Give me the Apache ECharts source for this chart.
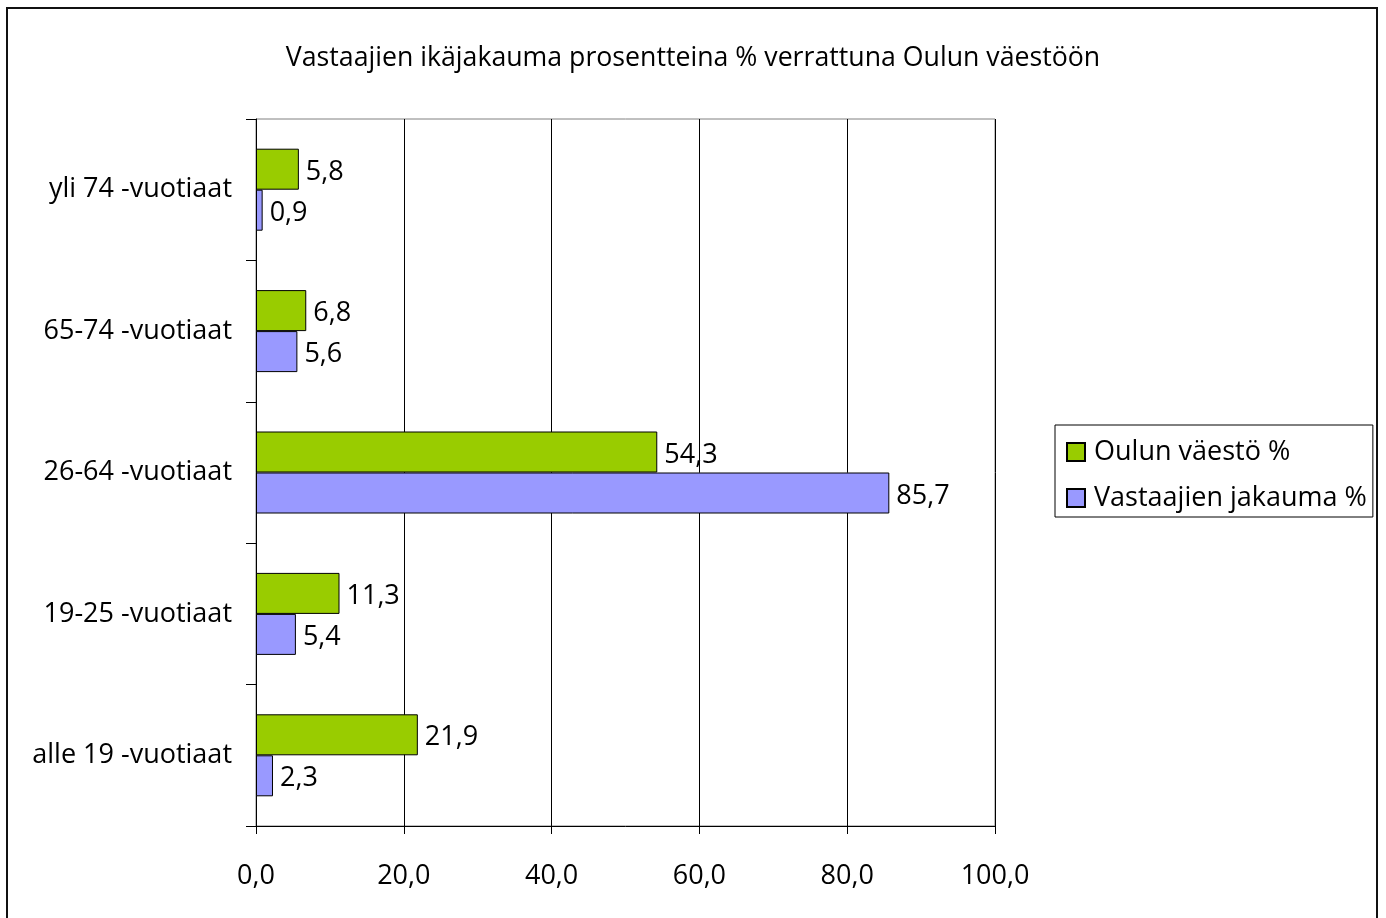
<!DOCTYPE html>
<html>
<head>
<meta charset="utf-8">
<script src="https://cdn.jsdelivr.net/npm/echarts@6/dist/echarts.min.js"></script>
<style>
html,body{margin:0;padding:0;background:#fff;}
#frame{position:absolute;left:6px;top:7px;width:1372px;height:920px;border:2px solid #111;box-sizing:border-box;}
#chart{position:absolute;left:0;top:0;width:1386px;height:918px;}
</style>
</head>
<body>
<div id="frame"></div>
<div id="chart"></div>
<script>
const categories = ['alle 19 -vuotiaat', '19-25 -vuotiaat', '26-64 -vuotiaat', '65-74 -vuotiaat', 'yli 74 -vuotiaat'];
const seriesNames = ['Oulun väestö %', 'Vastaajien jakauma %'];
const oulunVaesto = [21.9, 11.3, 54.3, 6.8, 5.8];
const vastaajienJakauma = [2.3, 5.4, 85.7, 5.6, 0.9];
const titleText = 'Vastaajien ikäjakauma prosentteina % verrattuna Oulun väestöön';

const FONT = 'Open Sans';
const FS = 27;
const fmt = v => Number(v).toFixed(1).replace('.', ',');

const chart = echarts.init(document.getElementById('chart'), null, {renderer: 'canvas'});
const labelCfg = {
  show: true, position: 'right', distance: 7, offset: [0, 3],
  color: '#000', fontFamily: FONT, fontSize: FS,
  formatter: p => fmt(p.value)
};
chart.setOption({
  animation: false,
  backgroundColor: 'transparent',
  title: {
    text: titleText, left: 'center', top: 40,
    textStyle: {fontFamily: FONT, fontSize: 26.7, fontWeight: 'normal', color: '#000'}
  },
  legend: {
    data: seriesNames,
    orient: 'vertical',
    left: 1055, top: 425,
    padding: [12, 6, 4, 11],
    itemGap: 16,
    itemWidth: 18, itemHeight: 18,
    borderColor: '#000', borderWidth: 1,
    backgroundColor: '#fff',
    textStyle: {fontFamily: FONT, fontSize: FS, color: '#000', lineHeight: 30, padding: [0, 0, 0, 4]},
    icon: 'rect'
  },
  grid: {
    left: 256, top: 119, width: 739, height: 707,
    show: true, borderColor: '#808080', borderWidth: 1,
    containLabel: false
  },
  xAxis: {
    type: 'value', min: 0, max: 100, interval: 20,
    axisLine: {show: true, lineStyle: {color: '#000', width: 1}},
    axisTick: {show: true, length: 8, lineStyle: {color: '#000'}},
    splitLine: {show: true, lineStyle: {color: '#000', width: 1}},
    axisLabel: {fontFamily: FONT, fontSize: FS, color: '#000', margin: 37, formatter: v => fmt(v)}
  },
  yAxis: {
    type: 'category', data: categories,
    axisLine: {show: true, lineStyle: {color: '#000', width: 1}},
    axisTick: {show: true, length: 10, lineStyle: {color: '#000'}},
    axisLabel: {fontFamily: FONT, fontSize: FS, color: '#000', margin: 24, padding: [7, 0, 0, 0]}
  },
  series: [
    {
      name: seriesNames[0], type: 'bar', data: oulunVaesto,
      barWidth: 41, barGap: '0%',
      itemStyle: {color: '#99CC00', borderColor: '#000', borderWidth: 1},
      label: labelCfg
    },
    {
      name: seriesNames[1], type: 'bar', data: vastaajienJakauma,
      barWidth: 41, barGap: '0%',
      itemStyle: {color: '#9999FF', borderColor: '#000', borderWidth: 1},
      label: labelCfg
    }
  ]
});
</script>
</body>
</html>
